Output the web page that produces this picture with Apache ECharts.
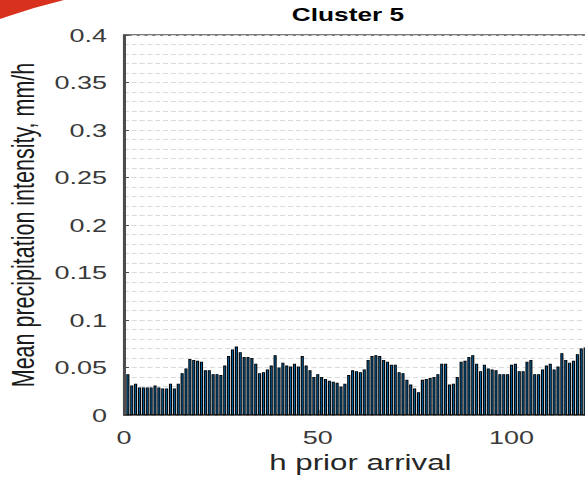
<!DOCTYPE html>
<html>
<head>
<meta charset="utf-8">
<title>Cluster 5</title>
<script src="https://cdn.jsdelivr.net/npm/echarts@6/dist/echarts.min.js"></script>
<style>
  html, body { margin: 0; padding: 0; background: #fff; overflow: hidden; width: 585px; height: 479px; }
  /* the figure is laid out narrow and stretched horizontally as a whole;
     its right part runs past the window edge */
  #chart { width: 460px; height: 479px; transform: scaleX(1.42); transform-origin: 0 0; }
</style>
</head>
<body>
<div id="chart"></div>
<script>
// Mean precipitation intensity (mm/h) for each hour before arrival, h = 1 ... 119
const precip = [
  0.043, 0.031, 0.033, 0.029, 0.029, 0.029, 0.029, 0.031, 0.029, 0.028,
  0.028, 0.033, 0.028, 0.033, 0.044, 0.049, 0.059, 0.058, 0.057, 0.056,
  0.047, 0.047, 0.043, 0.043, 0.042, 0.052, 0.062, 0.069, 0.072, 0.066,
  0.061, 0.061, 0.060, 0.054, 0.044, 0.045, 0.048, 0.052, 0.063, 0.050,
  0.055, 0.052, 0.051, 0.054, 0.051, 0.062, 0.052, 0.047, 0.040, 0.043,
  0.040, 0.038, 0.036, 0.035, 0.034, 0.030, 0.033, 0.042, 0.047, 0.046,
  0.045, 0.048, 0.058, 0.062, 0.063, 0.062, 0.058, 0.056, 0.053, 0.053,
  0.045, 0.044, 0.037, 0.032, 0.028, 0.024, 0.037, 0.038, 0.039, 0.040,
  0.043, 0.054, 0.054, 0.032, 0.033, 0.040, 0.056, 0.057, 0.061, 0.063,
  0.054, 0.046, 0.053, 0.049, 0.048, 0.047, 0.043, 0.043, 0.043, 0.053,
  0.054, 0.046, 0.046, 0.056, 0.058, 0.043, 0.043, 0.048, 0.052, 0.054,
  0.048, 0.051, 0.065, 0.058, 0.055, 0.057, 0.064, 0.070, 0.071
];
// hour of each bar, in the same order as the values
const hours = precip.map((_, i) => i + 1);

const xTickLabels = [0, 50, 100];
const titleText = 'Cluster 5';
const xName = 'h prior arrival';
const yName = 'Mean precipitation intensity, mm/h';

const SX = 1.42;               // horizontal stretch of the figure
const px = v => v / SX;        // screen x -> layout x
const FONT = '"Liberation Sans", Arial, Helvetica, sans-serif';
const AXIS = '#4d4d4d';
const GRID = '#dadada';

const chart = echarts.init(document.getElementById('chart'), null, { renderer: 'svg' });

chart.setOption({
  animation: false,
  backgroundColor: '#fff',
  title: {
    text: titleText,
    left: px(348) - 5,
    top: 0,
    textAlign: 'center',
    textStyle: { fontFamily: FONT, fontWeight: 'bold', fontSize: 18.5, color: '#000' }
  },
  graphic: [{
    type: 'polygon',
    silent: true,
    shape: { points: [[0, 0], [px(64), 0], [px(34), 8], [px(12), 15], [0, 19]] },
    style: { fill: '#d8321f' }
  }],
  grid: {
    left: px(124),
    top: 35,
    width: px(122 * 3.875),
    height: 380,
    show: true,
    borderColor: AXIS,
    borderWidth: 1.5,
    backgroundColor: 'transparent',
    containLabel: false,
    outerBoundsMode: 'none'
  },
  xAxis: {
    type: 'value',
    min: 0,
    max: 122,
    interval: 50,
    name: xName,
    nameLocation: 'middle',
    nameGap: 35,
    nameTextStyle: { fontFamily: FONT, fontSize: 22, color: '#262626' },
    axisLine: { show: true, onZero: false, lineStyle: { color: AXIS, width: 1.5 } },
    axisTick: { show: true, inside: true, length: 5, lineStyle: { color: AXIS, width: 1 } },
    axisLabel: {
      margin: 13,
      fontFamily: FONT,
      fontSize: 19,
      color: '#3a3a3a',
      formatter: v => (xTickLabels.indexOf(v) >= 0 ? String(v) : '')
    },
    splitLine: { show: false }
  },
  yAxis: {
    type: 'value',
    min: 0,
    max: 0.4,
    interval: 0.05,
    name: yName,
    nameLocation: 'middle',
    nameRotate: 90,
    nameGap: 51,
    nameTextStyle: { fontFamily: FONT, fontSize: 21.5, color: '#1a1a1a' },
    axisLine: { show: true, lineStyle: { color: AXIS, width: 1.5 } },
    axisTick: { show: true, inside: true, length: 3.5, lineStyle: { color: AXIS, width: 1 } },
    axisLabel: {
      margin: 12,
      fontFamily: FONT,
      fontSize: 19,
      color: '#3a3a3a',
      formatter: v => String(+v.toFixed(2))
    },
    splitLine: { show: true, lineStyle: { color: GRID, width: 1, type: [3.5, 2] } },
    minorTick: { show: false, splitNumber: 5 },
    minorSplitLine: { show: true, lineStyle: { color: GRID, width: 1, type: [3.5, 2] } }
  },
  series: [{
    type: 'bar',
    silent: true,
    barWidth: '80%',
    data: hours.map((h, i) => [h, precip[i]]),
    itemStyle: { color: '#0072BD', borderColor: '#000', borderWidth: 0.8 }
  }]
});
</script>
</body>
</html>
